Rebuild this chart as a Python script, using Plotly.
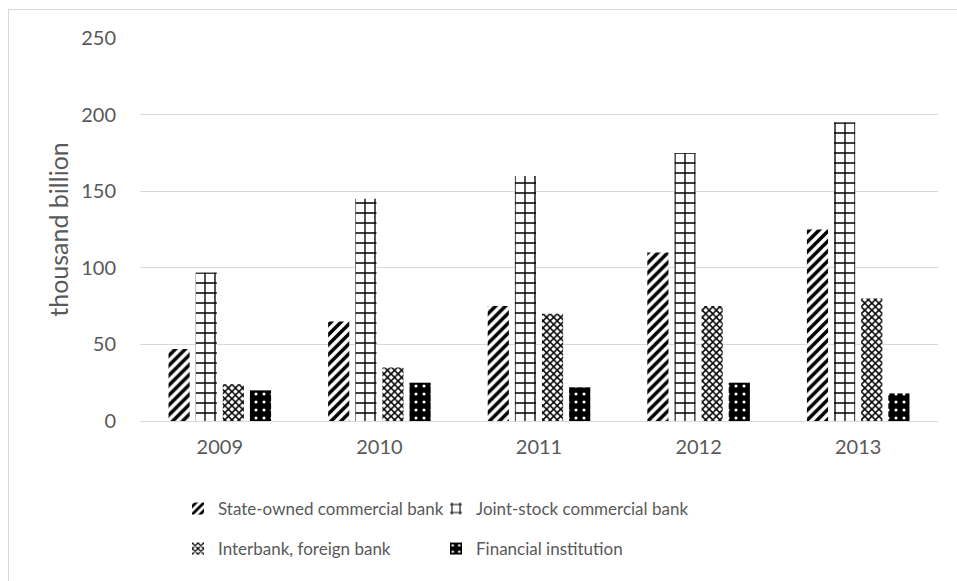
import plotly.graph_objects as go

years = ["2009", "2010", "2011", "2012", "2013"]
state_owned = [47, 65, 75, 110, 125]
joint_stock = [97, 145, 160, 175, 195]
interbank = [24, 35, 70, 75, 80]
financial = [20, 25, 22, 25, 18]

series_names = ["State-owned commercial bank", "Joint-stock commercial bank",
                "Interbank, foreign bank", "Financial institution"]

FONT = "Lato"
GRAY = "#595959"
GRID = "#d9d9d9"

fig = go.Figure()
fig.add_trace(go.Bar(
    x=years, y=state_owned, name=series_names[0], legend="legend",
    marker=dict(color="white", line=dict(width=0),
                pattern=dict(shape="/", fgcolor="black", bgcolor="white",
                             size=7, solidity=0.5, fillmode="replace"))))
fig.add_trace(go.Bar(
    x=years, y=joint_stock, name=series_names[1], legend="legend",
    marker=dict(color="white", line=dict(width=0),
                pattern=dict(shape="+", fgcolor="black", bgcolor="white",
                             size=10, solidity=0.25, fillmode="replace"))))
fig.add_trace(go.Bar(
    x=years, y=interbank, name=series_names[2], legend="legend2",
    marker=dict(color="white", line=dict(width=0),
                pattern=dict(shape="x", fgcolor="black", bgcolor="white",
                             size=5, solidity=0.5, fillmode="replace"))))
fig.add_trace(go.Bar(
    x=years, y=financial, name=series_names[3], legend="legend2",
    marker=dict(color="black", line=dict(width=0),
                pattern=dict(shape=".", fgcolor="white", bgcolor="black",
                             size=8, solidity=0.12, fillmode="replace"))))

L, R, T, B = 140, 19, 38, 160
W, H = 957, 581
pw, ph = W - L - R, H - T - B

def px_to_paper_x(px):
    return (px - L) / pw

def px_to_paper_y(py):
    return (H - B - py) / ph

legend_common = dict(orientation="h", xanchor="left", yanchor="middle",
                     font=dict(family=FONT, size=17, color=GRAY),
                     entrywidth=213, entrywidthmode="pixels",
                     bgcolor="rgba(0,0,0,0)", itemwidth=30, traceorder="normal")

fig.update_layout(
    width=W, height=H,
    margin=dict(l=L, r=R, t=T, b=B),
    paper_bgcolor="white", plot_bgcolor="white",
    font=dict(family=FONT, size=17, color=GRAY),
    barmode="group", bargap=0.32, bargroupgap=0.22,
    showlegend=True,
    legend=dict(x=px_to_paper_x(178), y=px_to_paper_y(509), **legend_common),
    legend2=dict(x=px_to_paper_x(178), y=px_to_paper_y(549), **legend_common),
    xaxis=dict(showgrid=False, showline=False, zeroline=False,
               ticks="outside", ticklen=8, tickcolor="rgba(0,0,0,0)",
               tickfont=dict(family=FONT, size=20, color=GRAY)),
    yaxis=dict(range=[0, 250], dtick=50, showgrid=True, gridcolor=GRID, gridwidth=1,
               zeroline=True, zerolinecolor=GRID, zerolinewidth=1, showline=False,
               ticks="outside", ticklen=19, tickcolor="rgba(0,0,0,0)",
               tickfont=dict(family=FONT, size=20, color=GRAY),
               title=dict(text="thousand billion", font=dict(family=FONT, size=25, color=GRAY),
                          standoff=5)),
    shapes=[
        dict(type="line", xref="paper", yref="paper",
             x0=px_to_paper_x(8.5), x1=px_to_paper_x(8.5),
             y0=px_to_paper_y(9), y1=px_to_paper_y(600),
             line=dict(color=GRID, width=1)),
        dict(type="line", xref="paper", yref="paper",
             x0=px_to_paper_x(8.5), x1=px_to_paper_x(960),
             y0=px_to_paper_y(9.5), y1=px_to_paper_y(9.5),
             line=dict(color=GRID, width=1)),
    ],
)

fig.write_html("out.html")
